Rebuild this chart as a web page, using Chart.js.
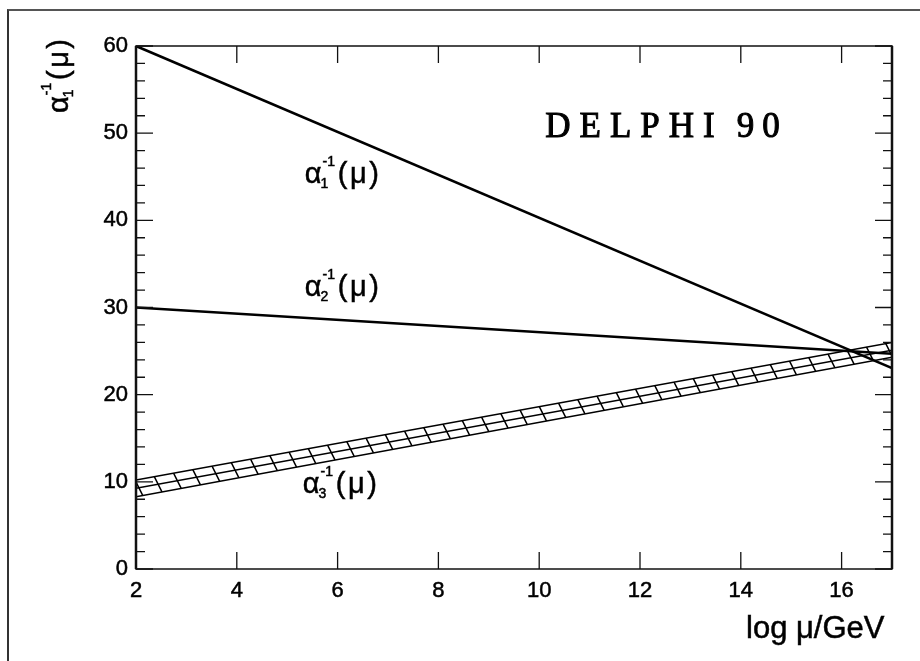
<!DOCTYPE html>
<html>
<head>
<meta charset="utf-8">
<script src="https://cdn.jsdelivr.net/npm/chart.js@4.4.1/dist/chart.umd.min.js"></script>
<style>
  html, body { margin: 0; padding: 0; background: #fff; }
  body { width: 920px; height: 661px; overflow: hidden; position: relative; }
  #frame { position: absolute; left: 7px; top: 9px; width: 960px; height: 720px; border-left: 2px solid #333; border-top: 2px solid #555; }
  #chart { position: absolute; left: 0; top: 0; }
</style>
</head>
<body>
<div id="frame"></div>
<canvas id="chart" width="920" height="661"></canvas>
<script>
// end points of the running couplings, log mu = 2 .. 17
const xEnds = [2, 17];
const alpha1 = [60, 23.05];
const alpha2 = [30, 24.7];
const alpha3Upper = [10.2, 26.0];
const alpha3Mid = [9.25, 25.1];
const alpha3Lower = [8.3, 24.3];

const xTickValues = [2, 4, 6, 8, 10, 12, 14, 16];
const yTickValues = [0, 10, 20, 30, 40, 50, 60];
const yMinorValues = [2, 4, 6, 8, 12, 14, 16, 18, 22, 24, 26, 28, 32, 34, 36, 38, 42, 44, 46, 48, 52, 54, 56, 58];

// curve labels, placed in data units
const curveLabels = [
  { sub: "1", x: 5.35, y: 44.3 },
  { sub: "2", x: 5.35, y: 31.3 },
  { sub: "3", x: 5.31, y: 8.7 }
];
const titleWords = ["DELPHI", "90"];
const titlePos = { x: 10.12, y: 49.6 };

function points(ys) {
  return xEnds.map((x, i) => ({ x: x, y: ys[i] }));
}

function makeHatch() {
  const w = 21, h = 42;
  const tile = document.createElement("canvas");
  tile.width = w;
  tile.height = h;
  const t = tile.getContext("2d");
  t.strokeStyle = "#000";
  t.lineWidth = 1.5;
  t.beginPath();
  [-w, 0, w].forEach((dx) => {
    t.moveTo(dx - 1, -2);
    t.lineTo(dx + w + 1, h + 2);
  });
  t.stroke();
  return t.createPattern(tile, "repeat");
}

function heavyText(ctx, s, x, y) {
  ctx.fillText(s, x, y);
  ctx.strokeText(s, x, y);
}

function drawAlpha(ctx, x0, y0, sub) {
  ctx.textAlign = "left";
  ctx.textBaseline = "alphabetic";
  ctx.strokeStyle = "#000";
  ctx.lineWidth = 0.5;
  ctx.font = '29px "Liberation Sans"';
  heavyText(ctx, "\u03b1", x0, y0);
  const w = ctx.measureText("\u03b1").width;
  ctx.font = '14px "Liberation Sans"';
  heavyText(ctx, sub, x0 + w - 1, y0 + 5);
  heavyText(ctx, "-1", x0 + w + 1, y0 - 17);
  ctx.font = '29px "Liberation Sans"';
  let cx = x0 + 33;
  ["(", "\u03bc", ")"].forEach((ch) => {
    heavyText(ctx, ch, cx, y0);
    cx += ctx.measureText(ch).width + 2.5;
  });
}

const framePlugin = {
  id: "frame",
  afterDatasetsDraw(chart) {
    const { ctx, chartArea: a, scales } = chart;
    ctx.save();
    ctx.strokeStyle = "#111";
    ctx.lineWidth = 1.5;
    ctx.strokeRect(a.left, a.top, a.right - a.left, a.bottom - a.top);
    ctx.lineWidth = 2.5;
    ctx.beginPath();
    ctx.moveTo(a.left, a.top);
    ctx.lineTo(a.left, a.bottom);
    ctx.moveTo(a.right, a.top);
    ctx.lineTo(a.right, a.bottom);
    ctx.stroke();

    ctx.lineWidth = 1.3;
    ctx.beginPath();
    xTickValues.forEach((v) => {
      const px = scales.x.getPixelForValue(v);
      ctx.moveTo(px, a.bottom);
      ctx.lineTo(px, a.bottom - 17);
      ctx.moveTo(px, a.top);
      ctx.lineTo(px, a.top + 17);
    });
    yTickValues.forEach((v) => {
      const py = scales.y.getPixelForValue(v);
      ctx.moveTo(a.left, py);
      ctx.lineTo(a.left + 17, py);
      ctx.moveTo(a.right, py);
      ctx.lineTo(a.right - 17, py);
    });
    yMinorValues.forEach((v) => {
      const py = scales.y.getPixelForValue(v);
      ctx.moveTo(a.left, py);
      ctx.lineTo(a.left + 9, py);
      ctx.moveTo(a.right, py);
      ctx.lineTo(a.right - 9, py);
    });
    ctx.stroke();
    ctx.restore();
  },
  afterDraw(chart) {
    const { ctx, scales } = chart;
    ctx.save();
    ctx.fillStyle = "#000";

    curveLabels.forEach((lab) => {
      drawAlpha(ctx, scales.x.getPixelForValue(lab.x), scales.y.getPixelForValue(lab.y), lab.sub);
    });

    // y axis title, rotated
    ctx.save();
    ctx.translate(68, 113);
    ctx.rotate(-Math.PI / 2);
    drawAlpha(ctx, 0, 0, "1");
    ctx.restore();

    // x axis title
    ctx.font = '31px "Liberation Sans"';
    ctx.textAlign = "left";
    ctx.lineWidth = 0.5;
    heavyText(ctx, "log \u03bc/GeV", 746, 638);

    // DELPHI 90, letter spaced
    ctx.font = '35px "Liberation Serif"';
    ctx.strokeStyle = "#000";
    ctx.lineWidth = 1;
    let cx = scales.x.getPixelForValue(titlePos.x);
    const by = scales.y.getPixelForValue(titlePos.y);
    titleWords.forEach((word, wi) => {
      if (wi > 0) cx += 13;
      word.split("").forEach((ch) => {
        heavyText(ctx, ch, cx, by);
        cx += ctx.measureText(ch).width + (wi === 0 ? 9 : 8);
      });
    });
    ctx.restore();
  }
};

const hatch = makeHatch();
const lineBase = { pointRadius: 0, tension: 0, borderColor: "#000", fill: false };
const tickFont = { family: "Liberation Sans", size: 22 };

new Chart(document.getElementById("chart"), {
  type: "line",
  data: {
    datasets: [
      { ...lineBase, label: "alpha1", data: points(alpha1), borderWidth: 2.6 },
      { ...lineBase, label: "alpha2", data: points(alpha2), borderWidth: 2.6 },
      { ...lineBase, label: "alpha3 upper", data: points(alpha3Upper), borderWidth: 1.5 },
      { ...lineBase, label: "alpha3", data: points(alpha3Mid), borderWidth: 1.5 },
      { ...lineBase, label: "alpha3 lower", data: points(alpha3Lower), borderWidth: 1.5,
        fill: { target: 2 }, backgroundColor: hatch }
    ]
  },
  options: {
    responsive: false,
    animation: false,
    layout: { padding: { left: 0, right: 28, top: 46, bottom: 0 } },
    plugins: { legend: { display: false }, tooltip: { enabled: false } },
    scales: {
      x: {
        type: "linear",
        min: 2,
        max: 17,
        grid: { display: false, drawTicks: false },
        border: { display: false },
        afterBuildTicks: (scale) => { scale.ticks = xTickValues.map((v) => ({ value: v })); },
        afterFit: (scale) => { scale.height = 92; },
        ticks: { color: "#000", padding: 9, maxRotation: 0, font: tickFont,
          textStrokeColor: "#000", textStrokeWidth: 0.5 }
      },
      y: {
        min: 0,
        max: 60,
        grid: { display: false, drawTicks: false },
        border: { display: false },
        afterBuildTicks: (scale) => { scale.ticks = yTickValues.map((v) => ({ value: v })); },
        afterFit: (scale) => { scale.width = 136; },
        ticks: { color: "#000", padding: 8, font: tickFont,
          textStrokeColor: "#000", textStrokeWidth: 0.5 }
      }
    }
  },
  plugins: [framePlugin]
});
</script>
</body>
</html>
